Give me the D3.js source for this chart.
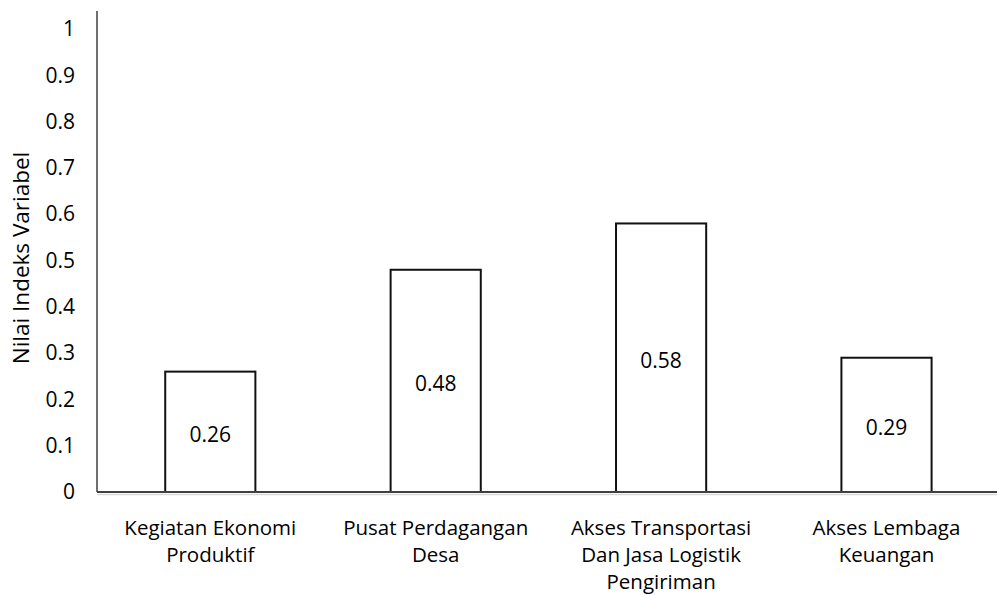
<!DOCTYPE html>
<html>
<head>
<meta charset="utf-8">
<script src="https://cdn.jsdelivr.net/npm/d3@7"></script>
<style>
  html, body { margin: 0; padding: 0; background: #fff; }
  svg { display: block; font-family: "Open Sans", "Liberation Sans", sans-serif; }
</style>
</head>
<body>
<svg id="chart" width="997" height="595"></svg>
<script>
// Variable index values per category
const categories = [
  ["Kegiatan Ekonomi", "Produktif"],
  ["Pusat Perdagangan", "Desa"],
  ["Akses Transportasi", "Dan Jasa Logistik", "Pengiriman"],
  ["Akses Lembaga", "Keuangan"]
];
const values = [0.26, 0.48, 0.58, 0.29];
const yTicks = [0, 0.1, 0.2, 0.3, 0.4, 0.5, 0.6, 0.7, 0.8, 0.9, 1];
const yTickLabels = ["0", "0.1", "0.2", "0.3", "0.4", "0.5", "0.6", "0.7", "0.8", "0.9", "1"];
const yTitle = "Nilai Indeks Variabel";

const svg = d3.select("#chart");
const plotLeft = 97, plotRight = 997, plotTop = 29, plotBottom = 492;
const fontSize = 21;

const keys = categories.map((c, i) => i);
const x = d3.scaleBand().domain(keys).range([97.6, 999.2]).paddingInner(0.6).paddingOuter(0.3);
const y = d3.scaleLinear().domain([0, 1]).range([plotBottom, plotTop]);

// Y axis: labels only, line drawn separately
const yAxis = d3.axisLeft(y).tickValues(yTicks)
  .tickFormat((d, i) => yTickLabels[i]).tickSize(0).tickPadding(22);
const gy = svg.append("g").attr("transform", `translate(${plotLeft},0)`).call(yAxis);
gy.select(".domain").remove();
gy.selectAll("text").attr("font-size", fontSize).attr("fill", "#000")
  .attr("font-family", "'Open Sans', sans-serif");

svg.append("line")
  .attr("x1", plotLeft).attr("x2", plotLeft).attr("y1", 11).attr("y2", plotBottom)
  .attr("stroke", "#404040").attr("stroke-width", 1.5);

// Bars
svg.append("g").selectAll("rect").data(values).join("rect")
  .attr("x", (d, i) => x(i))
  .attr("y", d => y(d))
  .attr("width", x.bandwidth())
  .attr("height", d => y(0) - y(d))
  .attr("fill", "#fff")
  .attr("stroke", "#111")
  .attr("stroke-width", 2);

// Value labels
svg.append("g").selectAll("text").data(values).join("text")
  .attr("x", (d, i) => x(i) + x.bandwidth() / 2)
  .attr("y", d => (y(d) + y(0)) / 2 + 10.5)
  .attr("text-anchor", "middle")
  .attr("font-size", fontSize)
  .attr("fill", "#000")
  .text(d => d.toFixed(2));

// Baseline with soft shadow
svg.append("line")
  .attr("x1", plotLeft).attr("x2", plotRight).attr("y1", plotBottom + 2.5).attr("y2", plotBottom + 2.5)
  .attr("stroke", "#d9d9d9").attr("stroke-width", 1.5);
svg.append("line")
  .attr("x1", plotLeft).attr("x2", plotRight).attr("y1", plotBottom).attr("y2", plotBottom)
  .attr("stroke", "#404040").attr("stroke-width", 2);

// Category labels
const xg = svg.append("g");
categories.forEach((lines, i) => {
  const cx = x(i) + x.bandwidth() / 2;
  const t = xg.append("text")
    .attr("x", cx)
    .attr("y", 534.5)
    .attr("text-anchor", "middle")
    .attr("font-size", 20.5)
    .attr("fill", "#000");
  lines.forEach((ln, j) => {
    t.append("tspan").attr("x", cx).attr("dy", j === 0 ? 0 : 27).text(ln);
  });
});

// Y axis title
svg.append("text")
  .attr("transform", `translate(29,258) rotate(-90)`)
  .attr("text-anchor", "middle")
  .attr("font-size", 22.5)
  .attr("fill", "#000")
  .text(yTitle);
</script>
</body>
</html>
